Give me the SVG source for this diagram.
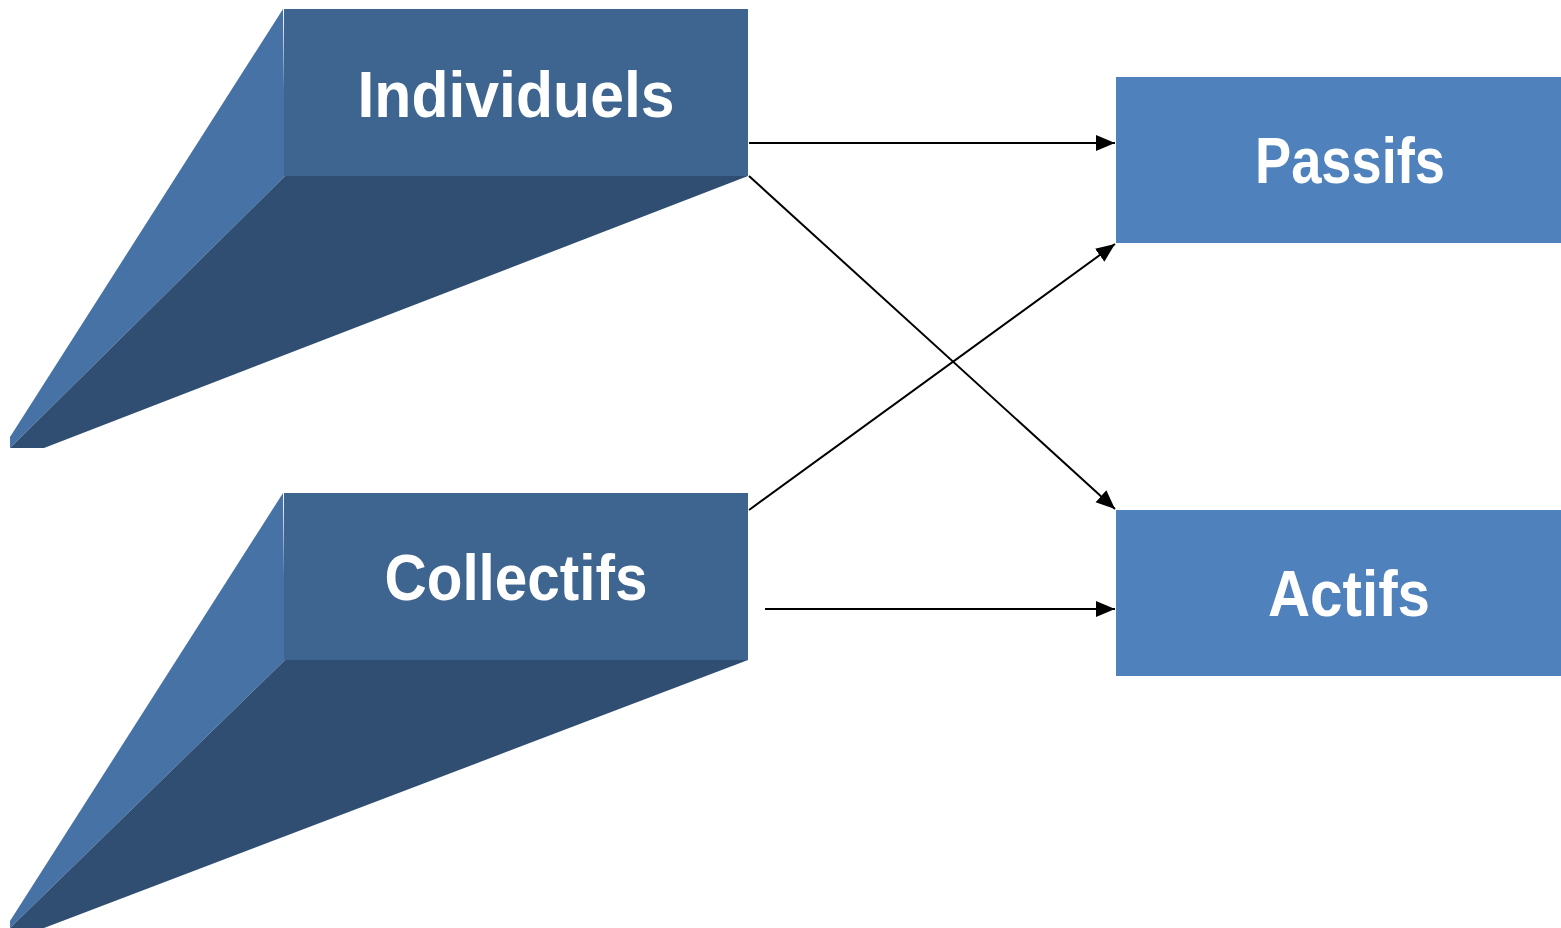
<svg xmlns="http://www.w3.org/2000/svg" width="1561" height="928" viewBox="0 0 1561 928">
<style>
.front{fill:#3e6490}
.side{fill:#4672a6}
.bottom{fill:#2f4e71}
.box{fill:#4f81bd}
.lbl{font-family:"Liberation Sans",Arial,sans-serif;font-weight:bold;fill:#fff;text-anchor:middle}
.conn{stroke:#000;stroke-width:2;fill:none;marker-end:url(#arr)}
</style>
<defs>
<marker id="arr" markerUnits="userSpaceOnUse" markerWidth="20" markerHeight="18" refX="19" refY="8" orient="auto">
<path d="M0,0 L19,8 L0,16 Z" fill="#000"/>
</marker>
</defs>
<rect width="1561" height="928" fill="#fff"/>
<g id="individuels">
<polygon class="side" points="283,9 285,176 10,448 10,437"/>
<polygon class="bottom" points="285,176 748,176 44,448 10,448"/>
<rect class="front" x="284" y="9" width="464" height="167"/>
<text class="lbl" x="516" y="117" font-size="64" textLength="317" lengthAdjust="spacingAndGlyphs">Individuels</text>
</g>
<g id="collectifs">
<polygon class="side" points="283,493 285,660 10,928 10,921"/>
<polygon class="bottom" points="285,660 748,660 44,928 10,928"/>
<rect class="front" x="284" y="493" width="464" height="167"/>
<text class="lbl" x="516" y="600" font-size="64" textLength="263" lengthAdjust="spacingAndGlyphs">Collectifs</text>
</g>
<g id="passifs">
<rect class="box" x="1116" y="77" width="445" height="166"/>
<text class="lbl" x="1350" y="183" font-size="64" textLength="190" lengthAdjust="spacingAndGlyphs">Passifs</text>
</g>
<g id="actifs">
<rect class="box" x="1116" y="510" width="445" height="166"/>
<text class="lbl" x="1349" y="616" font-size="64" textLength="162" lengthAdjust="spacingAndGlyphs">Actifs</text>
</g>
<g id="connectors">
<line class="conn" x1="749" y1="143" x2="1115" y2="143"/>
<line class="conn" x1="749" y1="176" x2="1115" y2="509"/>
<line class="conn" x1="749" y1="510" x2="1115" y2="244"/>
<line class="conn" x1="765" y1="609" x2="1115" y2="609"/>
</g>
</svg>
